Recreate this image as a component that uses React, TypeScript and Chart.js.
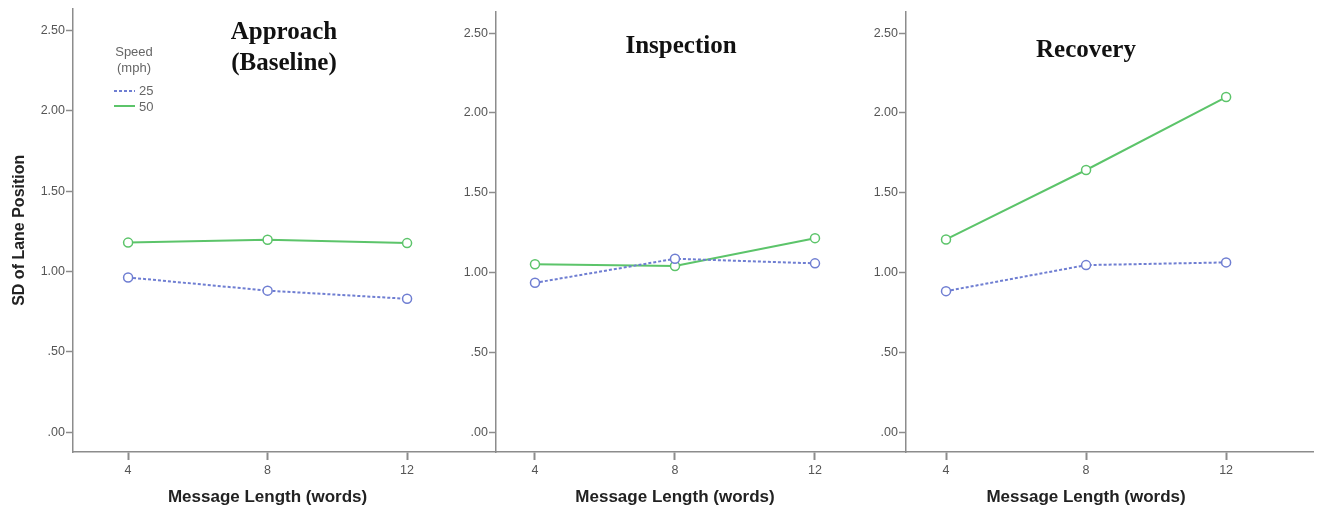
import React, { useEffect, useRef } from 'react';
import { Chart, registerables } from 'chart.js';

Chart.register(...registerables);

// ---- data ----
const messageLengths = [4, 8, 12];
const xTickValues = [4, 8, 12];
const yTickValues = [0, 0.5, 1, 1.5, 2, 2.5];
const seriesLabels = ['25', '50'];
const legendTitle = ['Speed', '(mph)'];
const xAxisTitle = 'Message Length (words)';
const yAxisTitle = 'SD of Lane Position';

const approachTitle = ['Approach', '(Baseline)'];
const inspectionTitle = ['Inspection'];
const recoveryTitle = ['Recovery'];

const approach25 = [0.963, 0.881, 0.83];
const approach50 = [1.18, 1.198, 1.177];
const inspection25 = [0.935, 1.086, 1.057];
const inspection50 = [1.051, 1.04, 1.215];
const recovery25 = [0.883, 1.046, 1.063];
const recovery50 = [1.207, 1.642, 2.099];

// ---- styling ----
const BLUE = '#6f7ed2';
const GREEN = '#5cc46a';
const AXIS = '#8c8c8c';
const TICKTXT = '#555555';
const SANS = "'Liberation Sans', Arial, sans-serif";
const SERIF = "'Liberation Serif', 'Times New Roman', serif";
const H = 509;

type PanelCfg = {
  left: number;
  width: number;
  axisWidth: number;
  top: number;
  xMin: number;
  xMax: number;
  yMin: number;
  yMax: number;
  title: string[];
  titleX: number;
  titleY: number[];
  s25: number[];
  s50: number[];
  first: boolean;
};

const panels: PanelCfg[] = [
  { left: 0, width: 496, axisWidth: 73, top: 7, xMin: 2.42, xMax: 14.55, yMin: -0.124, yMax: 2.638, title: approachTitle, titleX: 284, titleY: [39, 70], s25: approach25, s50: approach50, first: true },
  { left: 420, width: 486, axisWidth: 76, top: 12, xMin: 2.886, xMax: 14.6, yMin: -0.125, yMax: 2.632, title: inspectionTitle, titleX: 681, titleY: [53], s25: inspection25, s50: inspection50, first: false },
  { left: 830, width: 484, axisWidth: 76, top: 12, xMin: 2.857, xMax: 14.51, yMin: -0.125, yMax: 2.632, title: recoveryTitle, titleX: 1086, titleY: [57], s25: recovery25, s50: recovery50, first: false },
];

function fmtY(v: number) {
  const s = v.toFixed(2);
  return s.startsWith('0') ? s.slice(1) : s;
}

function Panel({ cfg }: { cfg: PanelCfg }) {
  const ref = useRef<HTMLCanvasElement | null>(null);
  useEffect(() => {
    if (!ref.current) return;
    const deco = {
      id: 'deco',
      afterDraw(chart: any) {
        const ctx = chart.ctx;
        const xs = chart.scales.x;
        const area = chart.chartArea;
        ctx.save();
        // panel title
        ctx.fillStyle = '#111';
        ctx.font = `bold 25px ${SERIF}`;
        ctx.textAlign = 'center';
        ctx.textBaseline = 'alphabetic';
        cfg.title.forEach((t, i) => ctx.fillText(t, cfg.titleX - cfg.left, cfg.titleY[i]));
        // x axis title, centered on middle tick
        ctx.font = `bold 17px ${SANS}`;
        ctx.fillStyle = '#222';
        ctx.textBaseline = 'middle';
        ctx.fillText(xAxisTitle, xs.getPixelForValue(xTickValues[1]), 497);
        if (cfg.first) {
          // y axis title
          ctx.save();
          ctx.translate(20, (area.top + area.bottom) / 2);
          ctx.rotate(-Math.PI / 2);
          ctx.font = `bold 16px ${SANS}`;
          ctx.fillText(yAxisTitle, 0, 0);
          ctx.restore();
          // legend
          ctx.font = `13px ${SANS}`;
          ctx.fillStyle = '#666';
          ctx.textAlign = 'center';
          ctx.fillText(legendTitle[0], 134, 52);
          ctx.fillText(legendTitle[1], 134, 68);
          ctx.textAlign = 'left';
          ctx.fillText(seriesLabels[0], 139, 91);
          ctx.fillText(seriesLabels[1], 139, 107);
          ctx.lineWidth = 2;
          ctx.strokeStyle = BLUE;
          ctx.setLineDash([3, 2]);
          ctx.beginPath();
          ctx.moveTo(114, 91);
          ctx.lineTo(135, 91);
          ctx.stroke();
          ctx.setLineDash([]);
          ctx.strokeStyle = GREEN;
          ctx.beginPath();
          ctx.moveTo(114, 106);
          ctx.lineTo(135, 106);
          ctx.stroke();
        }
        ctx.restore();
      },
    };
    const chart = new Chart(ref.current, {
      type: 'line',
      data: {
        datasets: [
          {
            label: seriesLabels[0],
            data: messageLengths.map((x, i) => ({ x, y: cfg.s25[i] })),
            borderColor: BLUE,
            borderWidth: 2,
            borderDash: [3, 2],
            pointRadius: 4.5,
            pointBorderWidth: 1.5,
            pointBackgroundColor: '#ffffff',
            pointBorderColor: BLUE,
            tension: 0,
          },
          {
            label: seriesLabels[1],
            data: messageLengths.map((x, i) => ({ x, y: cfg.s50[i] })),
            borderColor: GREEN,
            borderWidth: 2,
            pointRadius: 4.5,
            pointBorderWidth: 1.5,
            pointBackgroundColor: '#ffffff',
            pointBorderColor: GREEN,
            tension: 0,
          },
        ],
      },
      options: {
        responsive: false,
        animation: false,
        events: [],
        layout: { autoPadding: false, padding: { top: cfg.top, left: 0, right: 0, bottom: 0 } },
        plugins: { legend: { display: false }, tooltip: { enabled: false }, title: { display: false } },
        scales: {
          x: {
            type: 'linear',
            min: cfg.xMin,
            max: cfg.xMax,
            afterBuildTicks: (s: any) => { s.ticks = xTickValues.map((v) => ({ value: v })); },
            afterFit: (s: any) => { s.height = 57; },
            ticks: { color: TICKTXT, font: { family: SANS, size: 12.5 }, padding: 3, callback: (v: any) => String(v) },
            grid: { display: true, drawOnChartArea: false, drawTicks: true, tickLength: 8, tickWidth: 2, tickColor: AXIS },
            border: { display: true, color: AXIS, width: 1.5 },
          },
          y: {
            type: 'linear',
            min: cfg.yMin,
            max: cfg.yMax,
            afterBuildTicks: (s: any) => { s.ticks = yTickValues.map((v) => ({ value: v })); },
            afterFit: (s: any) => { s.width = cfg.axisWidth; },
            ticks: { color: TICKTXT, font: { family: SANS, size: 12.5 }, padding: 1, callback: (v: any) => fmtY(Number(v)) },
            grid: { display: true, drawOnChartArea: false, drawTicks: true, tickLength: 7, tickWidth: 1.5, tickColor: AXIS },
            border: { display: true, color: AXIS, width: 1.5 },
          },
        },
      },
      plugins: [deco],
    } as any);
    return () => chart.destroy();
  }, [cfg]);
  return (
    <canvas
      ref={ref}
      width={cfg.width}
      height={H}
      style={{ position: 'absolute', left: cfg.left, top: 0, width: cfg.width, height: H }}
    />
  );
}

export default function App() {
  return (
    <div style={{ position: 'absolute', left: 0, top: 0, width: 1320, height: H, background: '#ffffff', overflow: 'hidden' }}>
      {panels.map((p, i) => (
        <Panel key={i} cfg={p} />
      ))}
    </div>
  );
}
